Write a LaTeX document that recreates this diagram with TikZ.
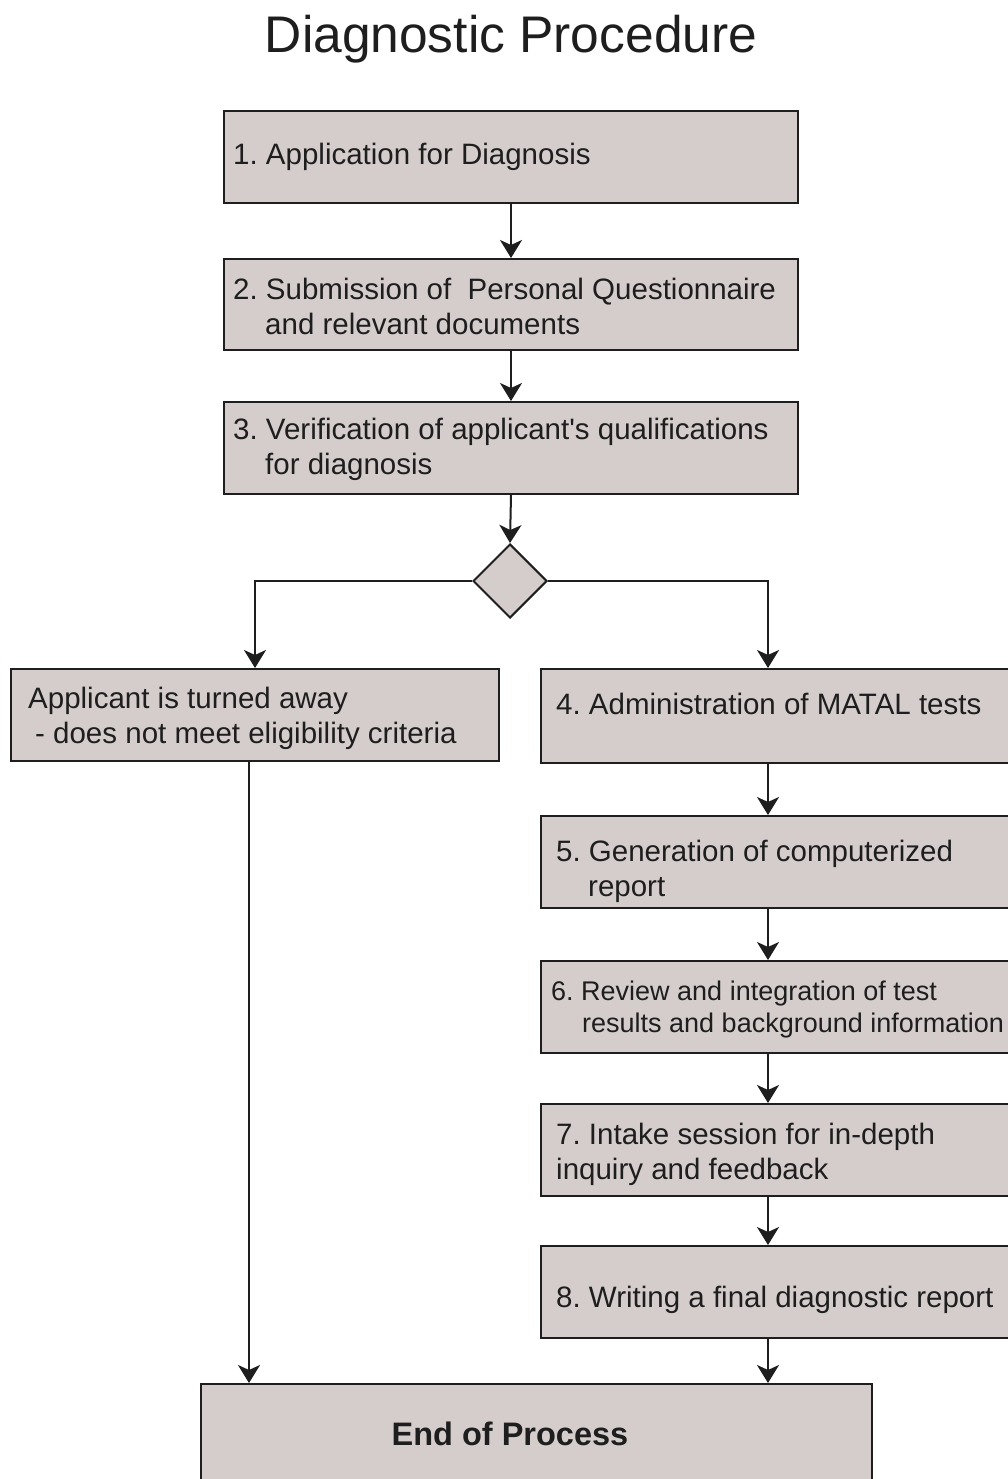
\documentclass[tikz,border=0pt]{standalone}
\usepackage{fontspec}
\setmainfont{Liberation Sans}
\newfontfamily\plainfont{Liberation Sans}
\usetikzlibrary{shapes.geometric,arrows.meta}
\definecolor{boxfill}{RGB}{212,205,203}
\definecolor{ink}{RGB}{30,30,30}
\frenchspacing
\tikzset{
  box/.style={draw=ink, line width=2pt, fill=boxfill, rectangle, anchor=north west, inner sep=0pt},
  txt/.style={anchor=base west, inner sep=0pt, text=ink, font=\fontsize{29.5}{35}\selectfont},
  txts/.style={anchor=base west, inner sep=0pt, text=ink, font=\fontsize{27}{32}\selectfont},
  arr/.style={draw=ink, line width=2pt, -{Stealth[length=18pt,width=22pt,inset=5pt]}},
  ln/.style={draw=ink, line width=2pt}
}
\begin{document}
\begin{tikzpicture}[x=1pt,y=-1pt]
\useasboundingbox (0,0) rectangle (1008,1479);
\clip (0,0) rectangle (1008,1479);
\fill[white] (0,0) rectangle (1008,1479);
% title
\node[anchor=base, inner sep=0pt, text=ink, font=\fontsize{51.5}{60}\selectfont] (title) at (511,53) {Diagnostic Procedure};
% boxes
\node[box, minimum width=574pt, minimum height=92pt] (b1) at (223,110) {};
\node[box, minimum width=574pt, minimum height=91pt] (b2) at (223,258) {};
\node[box, minimum width=574pt, minimum height=92pt] (b3) at (223,401) {};
\node[draw=ink, line width=2pt, fill=boxfill, diamond, minimum width=74pt, minimum height=74pt, inner sep=0pt] (d) at (510,581) {};
\node[box, minimum width=488pt, minimum height=92pt] (bl) at (10,668) {};
\node[box, minimum width=490pt, minimum height=94pt] (b4) at (540,668) {};
\node[box, minimum width=490pt, minimum height=92pt] (b5) at (540,815) {};
\node[box, minimum width=490pt, minimum height=92pt] (b6) at (540,960) {};
\node[box, minimum width=490pt, minimum height=92pt] (b7) at (540,1103) {};
\node[box, minimum width=490pt, minimum height=92pt] (b8) at (540,1245) {};
\node[box, minimum width=671pt, minimum height=130pt] (end) at (200,1383) {};
% texts
\node[txt] (t1) at (233,165) {1. Application for Diagnosis};
\node[txt] (t2a) at (233,299) {2. Submission of \ Personal Questionnaire};
\node[txt] (t2b) at (265,334) {and relevant documents};
\node[txt] (t3a) at (233,439) {3. Verification of applicant{\plainfont '}s qualifications};
\node[txt] (t3b) at (265,474) {for diagnosis};
\node[txt] (tla) at (28,708) {Applicant is turned away};
\node[txt] (tlb) at (35,743) {- does not meet eligibility criteria};
\node[txt] (t4) at (556,714) {4. Administration of MATAL tests};
\node[txt] (t5a) at (556,861) {5. Generation of computerized};
\node[txt] (t5b) at (588,896) {report};
\node[txts] (t6a) at (551,1000) {6. Review and integration of test};
\node[txts] (t6b) at (582,1032) {results and background information};
\node[txt] (t7a) at (556,1144) {7. Intake session for in-depth};
\node[txt] (t7b) at (556,1179) {inquiry and feedback};
\node[txt] (t8) at (556,1307) {8. Writing a final diagnostic report};
\node[anchor=base, inner sep=0pt, text=ink, font=\fontsize{32.5}{38}\selectfont\bfseries] (tend) at (510,1445) {End of Process};
% connector columns
\coordinate (rc) at (768,0);
\coordinate (lc) at (249,0);
% connectors
\draw[arr] (b1.south) -- (b2.north);
\draw[arr] (b2.south) -- (b3.north);
\draw[arr] (b3.south) -- (d.north);
\draw[arr] (d.west) -| (bl.north);
\draw[arr] (d.east) -| (b4.north -| rc);
\draw[arr] (b4.south -| rc) -- (b5.north -| rc);
\draw[arr] (b5.south -| rc) -- (b6.north -| rc);
\draw[arr] (b6.south -| rc) -- (b7.north -| rc);
\draw[arr] (b7.south -| rc) -- (b8.north -| rc);
\draw[arr] (b8.south -| rc) -- (end.north -| rc);
\draw[arr] (bl.south -| lc) -- (end.north -| lc);
\end{tikzpicture}
\end{document}
